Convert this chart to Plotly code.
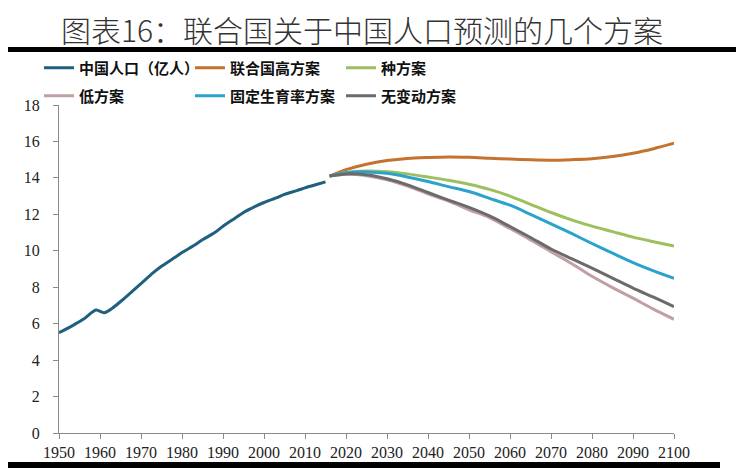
import plotly.graph_objects as go

# ---- data ----
hist_years = [1950, 1953, 1956, 1959, 1961, 1963, 1966, 1970, 1973, 1975, 1978, 1980, 1983, 1985,
              1988, 1990, 1993, 1995, 1998, 2000, 2003, 2005, 2008, 2010, 2013, 2015]
hist_pop = [5.5, 5.85, 6.25, 6.75, 6.6, 6.85, 7.4, 8.2, 8.8, 9.15, 9.6, 9.9, 10.3, 10.6,
            11.0, 11.35, 11.8, 12.1, 12.45, 12.65, 12.9, 13.1, 13.3, 13.45, 13.65, 13.78]

proj_years = [2016, 2020, 2025, 2030, 2035, 2040, 2045, 2050, 2055, 2060, 2065, 2070, 2075,
              2080, 2085, 2090, 2095, 2100]
high = [14.1, 14.45, 14.75, 14.95, 15.07, 15.12, 15.15, 15.13, 15.08, 15.03, 14.99, 14.97, 15.0,
        15.05, 15.17, 15.35, 15.6, 15.9]
medium = [14.1, 14.3, 14.38, 14.34, 14.22, 14.05, 13.87, 13.65, 13.37, 13.0, 12.55, 12.1, 11.7,
          11.35, 11.05, 10.75, 10.5, 10.26]
low = [14.1, 14.2, 14.12, 13.9, 13.55, 13.12, 12.72, 12.25, 11.82, 11.22, 10.6, 9.95, 9.3,
       8.6, 7.98, 7.4, 6.8, 6.24]
fixed = [14.1, 14.28, 14.33, 14.25, 14.05, 13.8, 13.52, 13.25, 12.88, 12.5, 12.0, 11.48, 10.95,
         10.4, 9.87, 9.35, 8.9, 8.49]
nochange = [14.1, 14.22, 14.17, 13.95, 13.62, 13.2, 12.78, 12.38, 11.91, 11.33, 10.73, 10.1, 9.57,
            9.05, 8.5, 7.95, 7.45, 6.93]

x_ticks = list(range(1950, 2101, 10))
y_ticks = list(range(0, 19, 2))

title = "图表16：联合国关于中国人口预测的几个方案"
names = ["中国人口（亿人）", "联合国高方案", "种方案", "低方案", "固定生育率方案", "无变动方案"]
colors = ["#1F5F80", "#C4722E", "#9DC05E", "#C29FA2", "#2AA3CC", "#6B6B6B"]
legend_rows = ["legend", "legend", "legend", "legend2", "legend2", "legend2"]

# ---- figure ----
fig = go.Figure()
series = [(hist_years, hist_pop), (proj_years, high), (proj_years, medium),
          (proj_years, low), (proj_years, fixed), (proj_years, nochange)]
for (xs, ys), name, col, lg in zip(series, names, colors, legend_rows):
    fig.add_trace(go.Scatter(x=xs, y=ys, name=name, mode="lines", legend=lg,
                             line=dict(color=col, width=3, shape="spline", smoothing=0.8)))

OFF = 8  # page body margin offset
W, H = 744, 468
L, R, T, B = 51, 78, 97, 43
pw, ph = W - L - R, H - T - B


def px_x(x):
    return (x - OFF - L) / pw


def px_y(y):
    return (H - B - (y - OFF)) / ph


legend_common = dict(orientation="h", xanchor="left", yanchor="middle",
                     entrywidth=106, entrywidthmode="pixels", traceorder="normal",
                     font=dict(family="Noto Sans CJK SC", size=15, color="#111", weight="bold"),
                     itemwidth=30, bgcolor="rgba(0,0,0,0)")

fig.update_layout(
    width=W, height=H,
    margin=dict(l=L, r=R, t=T, b=B, autoexpand=False),
    paper_bgcolor="white", plot_bgcolor="white",
    font=dict(family="Liberation Serif", color="#222"),
    showlegend=True,
    legend=dict(x=px_x(39), y=px_y(68), **legend_common),
    legend2=dict(x=px_x(39), y=px_y(96), **legend_common),
    xaxis=dict(range=[1950, 2100], tickvals=x_ticks, ticktext=[str(v) for v in x_ticks],
               showgrid=False, zeroline=False, showline=True, linecolor="#8a8a8a", linewidth=1,
               ticks="outside", ticklen=5, tickcolor="#8a8a8a", automargin=False,
               tickfont=dict(family="Liberation Serif", size=16, color="#222")),
    yaxis=dict(range=[0, 18], tickvals=y_ticks, showgrid=False, zeroline=False,
               showline=True, linecolor="#8a8a8a", linewidth=1, automargin=False,
               ticks="outside", ticklen=5, tickcolor="#8a8a8a", ticklabelstandoff=10,
               tickfont=dict(family="Liberation Serif", size=16, color="#222")),
)

fig.add_annotation(text=title, xref="paper", yref="paper", x=px_x(362), y=px_y(29),
                   xanchor="center", yanchor="middle", showarrow=False,
                   font=dict(family="Noto Sans CJK SC", size=30, color="#333", weight=300))

# thick black rules
fig.add_shape(type="rect", xref="paper", yref="paper", x0=px_x(5), x1=px_x(736),
              y0=px_y(52), y1=px_y(47), fillcolor="black", line=dict(width=0))
fig.add_shape(type="rect", xref="paper", yref="paper", x0=px_x(5), x1=px_x(720),
              y0=px_y(468), y1=px_y(462), fillcolor="black", line=dict(width=0))

fig.write_html("out.html")
